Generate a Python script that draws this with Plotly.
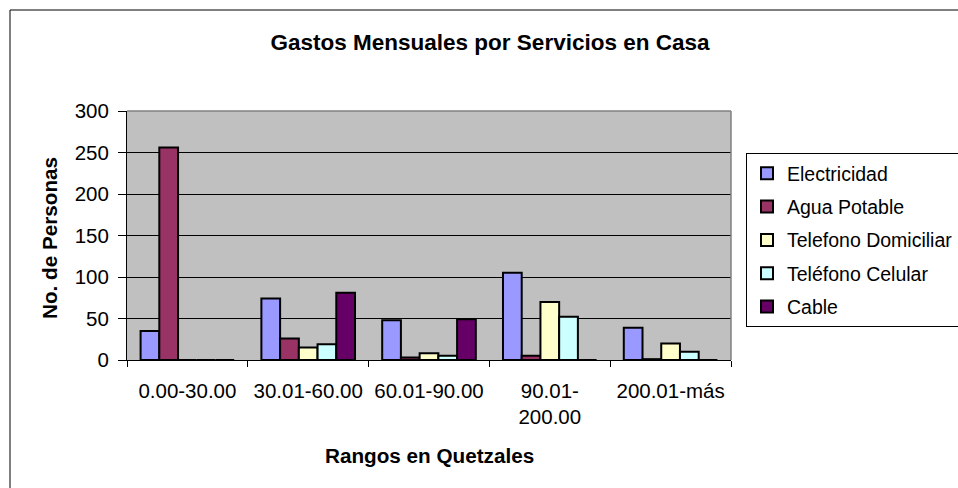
import plotly.graph_objects as go

categories = ["0.00-30.00", "30.01-60.00", "60.01-90.00", "90.01-<br>200.00", "200.01-más"]

electricidad = [35, 74, 48, 105, 39]
agua_potable = [256, 26, 3, 5, 1]
telefono_domiciliar = [0, 15, 8, 70, 20]
telefono_celular = [0, 19, 5, 52, 10]
cable = [0, 81, 49, 0, 0]

series = [
    ("Electricidad", electricidad, "#9999FF"),
    ("Agua Potable", agua_potable, "#993366"),
    ("Telefono Domiciliar", telefono_domiciliar, "#FFFFCC"),
    ("Teléfono Celular", telefono_celular, "#CCFFFF"),
    ("Cable", cable, "#660066"),
]

FONT = "Liberation Sans, Arial, sans-serif"

fig = go.Figure()
for name, values, color in series:
    fig.add_trace(
        go.Bar(
            x=categories,
            y=values,
            name=name,
            legendgroup=name,
            marker=dict(color=color, line=dict(color="#000000", width=2)),
        )
    )

# plot area: x 127..731, y 111..360 (pixels)
PL, PR, PT, PB = 127, 731, 111, 360
W, H = 958, 488


def px_x(x):
    return (x - PL) / (PR - PL)


def px_y(y):
    return (PB - y) / (PB - PT)


fig.update_layout(
    width=W,
    height=H,
    paper_bgcolor="#FFFFFF",
    plot_bgcolor="#C0C0C0",
    margin=dict(l=PL, r=W - PR, t=PT, b=H - PB, autoexpand=False),
    font=dict(family=FONT, size=20.5, color="#000000"),
    barmode="group",
    bargap=0.225,
    bargroupgap=0,
    title=dict(
        text="<b>Gastos Mensuales por Servicios en Casa</b>",
        font=dict(size=22.5),
        x=px_x(490),
        xref="paper",
        xanchor="center",
        y=1 - 42 / H,
        yref="container",
        yanchor="middle",
    ),
    xaxis=dict(
        type="category",
        showline=True,
        linecolor="#000000",
        linewidth=1,
        ticks="outside",
        tickson="boundaries",
        ticklen=6,
        tickcolor="#000000",
        tickangle=0,
        ticklabelstandoff=12,
        showgrid=False,
        automargin=False,
    ),
    yaxis=dict(
        range=[0, 300],
        dtick=50,
        showline=True,
        linecolor="#000000",
        linewidth=1,
        ticks="outside",
        ticklen=8,
        tickcolor="#000000",
        ticklabelstandoff=5,
        showgrid=True,
        gridcolor="#000000",
        gridwidth=1,
        zeroline=False,
        automargin=False,
    ),
    legend=dict(
        x=px_x(746),
        xanchor="left",
        y=px_y(153),
        yanchor="top",
        bgcolor="#FFFFFF",
        bordercolor="#000000",
        borderwidth=1,
        traceorder="grouped",
        tracegroupgap=5,
        font=dict(size=19.5),
        itemwidth=30,
    ),
    annotations=[
        dict(
            text="<b>Rangos en Quetzales</b>",
            xref="paper",
            yref="paper",
            x=0.5,
            y=px_y(455),
            xanchor="center",
            yanchor="middle",
            showarrow=False,
            font=dict(size=20.7),
        ),
        dict(
            text="<b>No. de Personas</b>",
            xref="paper",
            yref="paper",
            x=px_x(49),
            y=px_y(238),
            xanchor="center",
            yanchor="middle",
            textangle=-90,
            showarrow=False,
            font=dict(size=20.7),
        ),
    ],
    shapes=[
        # gray border of plot area (top/right)
        dict(type="line", xref="paper", yref="paper", x0=0, x1=1, y0=1, y1=1,
             line=dict(color="#808080", width=1.5)),
        dict(type="line", xref="paper", yref="paper", x0=1, x1=1, y0=0, y1=1,
             line=dict(color="#808080", width=1.5)),
        # chart area border
        dict(type="rect", xref="paper", yref="paper",
             x0=px_x(10), x1=px_x(1000), y0=px_y(530), y1=px_y(10),
             line=dict(color="#000000", width=1), layer="below"),
    ],
)

# the page's default body margin would shift the figure by 8px
fig.write_html(
    "out.html",
    config={"displayModeBar": False},
    post_script="document.body.style.margin = '0';",
)
